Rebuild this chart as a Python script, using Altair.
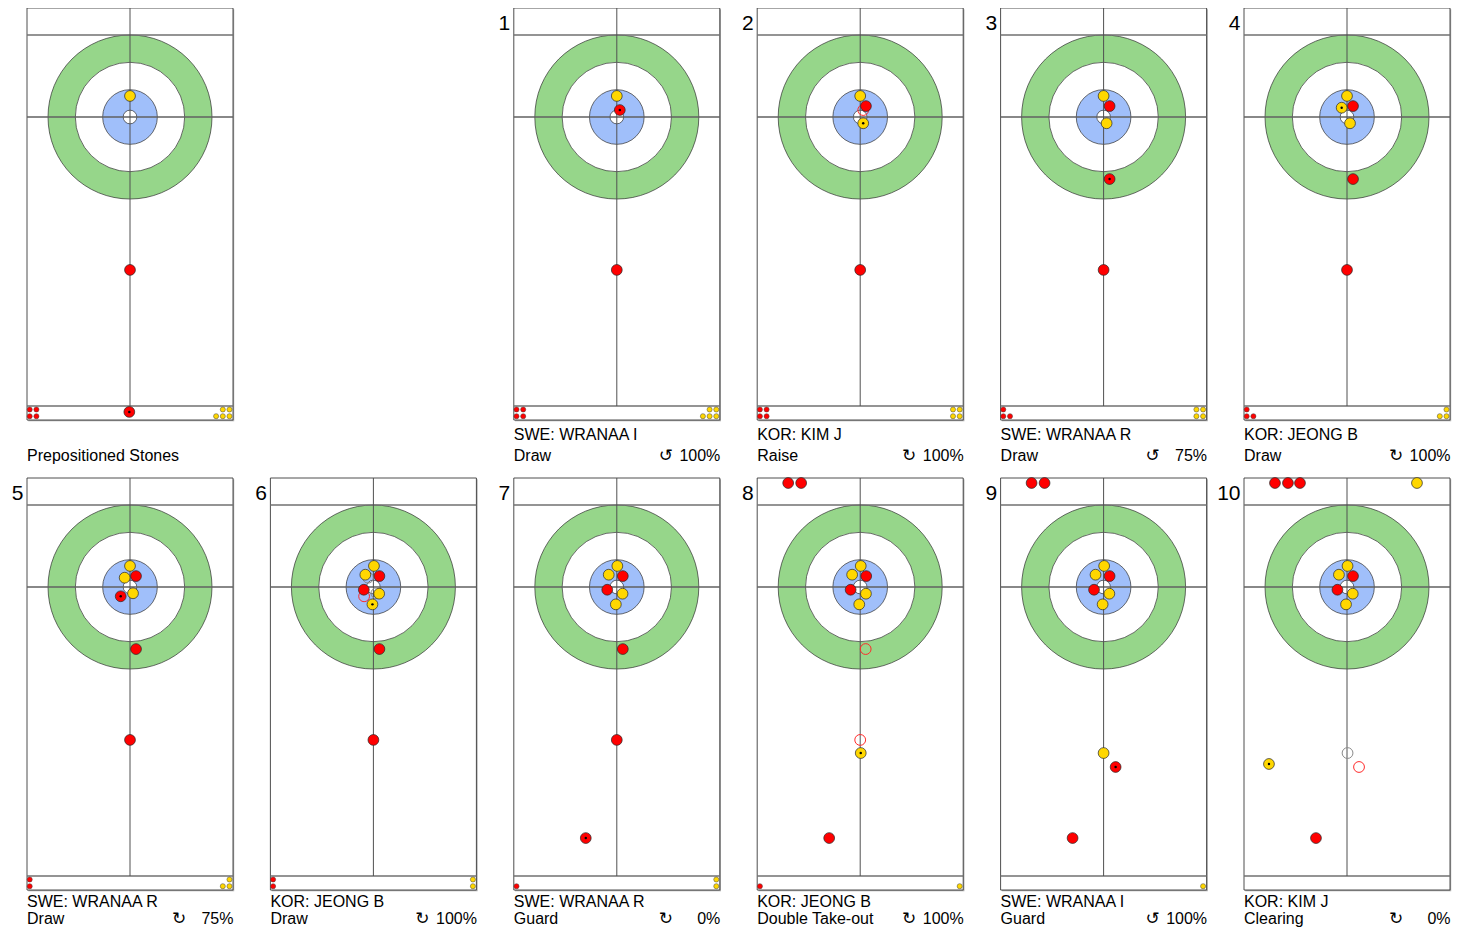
import altair as alt
import pandas as pd

# ---------------- data ----------------
PANEL_COL = [0, 2, 3, 4, 5, 0, 1, 2, 3, 4, 5]
PANEL_ROW = [0, 0, 0, 0, 0, 1, 1, 1, 1, 1, 1]
PANEL_NUM = ["", "1", "2", "3", "4", "5", "6", "7", "8", "9", "10"]
PANEL_PLAYER = ["", "SWE: WRANAA I", "KOR: KIM J", "SWE: WRANAA R", "KOR: JEONG B",
                "SWE: WRANAA R", "KOR: JEONG B", "SWE: WRANAA R", "KOR: JEONG B",
                "SWE: WRANAA I", "KOR: KIM J"]
PANEL_SHOT = ["Prepositioned Stones", "Draw", "Raise", "Draw", "Draw", "Draw", "Draw",
              "Guard", "Double Take-out", "Guard", "Clearing"]
PANEL_TURN = ["", "\u21ba", "\u21bb", "\u21ba", "\u21bb", "\u21bb", "\u21bb", "\u21bb",
              "\u21bb", "\u21ba", "\u21bb"]
PANEL_PCT = ["", "100%", "100%", "75%", "100%", "75%", "100%", "0%", "100%", "100%", "0%"]
RED_LEFT = [4, 4, 4, 3, 3, 2, 2, 1, 1, 0, 0]
YELLOW_LEFT = [5, 5, 4, 4, 3, 3, 2, 2, 1, 1, 0]

# stones: (team, feet right of centre line, feet from tee line towards hog, state)
HOUSE_LATE = [("Y", 0.04, -1.54, "in"), ("Y", -0.59, -0.90, "in"), ("R", 0.44, -0.80, "in"),
              ("R", -0.70, 0.20, "in"), ("Y", 0.42, 0.49, "in"), ("Y", -0.07, 1.27, "in")]
STONES_P0 = [("Y", 0.00, -1.54, "in"), ("R", 0.00, 11.19, "in"), ("R", -0.05, 21.58, "thrown")]
STONES_P1 = [("Y", 0.00, -1.54, "in"), ("R", 0.22, -0.51, "thrown"), ("R", 0.00, 11.19, "in")]
STONES_P2 = [("R", 0.22, -0.51, "prev"), ("Y", 0.00, -1.54, "in"), ("R", 0.42, -0.80, "in"),
             ("Y", 0.22, 0.46, "thrown"), ("R", 0.00, 11.19, "in")]
STONES_P3 = [("Y", 0.00, -1.54, "in"), ("R", 0.44, -0.80, "in"), ("Y", 0.22, 0.46, "in"),
             ("R", 0.44, 4.54, "thrown"), ("R", 0.00, 11.19, "in")]
STONES_P4 = [("Y", 0.00, -1.54, "in"), ("Y", -0.39, -0.68, "thrown"), ("R", 0.44, -0.80, "in"),
             ("Y", 0.22, 0.46, "in"), ("R", 0.44, 4.54, "in"), ("R", 0.00, 11.19, "in")]
STONES_P5 = [("Y", 0.00, -1.54, "in"), ("Y", -0.39, -0.68, "in"), ("R", 0.44, -0.80, "in"),
             ("Y", 0.22, 0.46, "in"), ("R", -0.68, 0.68, "thrown"), ("R", 0.44, 4.54, "in"),
             ("R", 0.00, 11.19, "in")]
STONES_P6 = [("Y", -0.39, -0.68, "prev"), ("Y", 0.22, 0.46, "prev"), ("R", -0.68, 0.68, "prev"),
             ("Y", 0.04, -1.54, "in"), ("Y", -0.59, -0.90, "in"), ("R", 0.44, -0.80, "in"),
             ("R", -0.70, 0.20, "in"), ("Y", 0.42, 0.49, "in"), ("Y", -0.07, 1.27, "thrown"),
             ("R", 0.44, 4.54, "in"), ("R", 0.00, 11.19, "in")]
STONES_P7 = HOUSE_LATE + [("R", 0.44, 4.54, "in"), ("R", 0.00, 11.19, "in"),
                          ("R", -2.27, 18.37, "thrown")]
STONES_P8 = [("R", 0.40, 4.54, "prev"), ("R", 0.00, 11.19, "prev")] + HOUSE_LATE + [
    ("Y", 0.04, 12.15, "thrown"), ("R", -2.27, 18.37, "in"),
    ("R", -5.27, -7.61, "in"), ("R", -4.32, -7.61, "in")]
STONES_P9 = HOUSE_LATE + [("Y", 0.00, 12.15, "in"), ("R", 0.88, 13.17, "thrown"),
                          ("R", -2.27, 18.37, "in"), ("R", -5.27, -7.61, "in"),
                          ("R", -4.32, -7.61, "in")]
STONES_P10 = [("Y", 0.04, 12.15, "prev"), ("R", 0.88, 13.17, "prev")] + HOUSE_LATE + [
    ("Y", -5.71, 12.95, "thrown"), ("R", -2.27, 18.37, "in"),
    ("R", -5.27, -7.61, "in"), ("R", -4.32, -7.61, "in"), ("R", -3.44, -7.61, "in"),
    ("Y", 5.12, -7.61, "in")]
STONES = [STONES_P0, STONES_P1, STONES_P2, STONES_P3, STONES_P4, STONES_P5,
          STONES_P6, STONES_P7, STONES_P8, STONES_P9, STONES_P10]

# ---------------- geometry / style ----------------
K = 82 / 6                     # pixels per foot
CW, CH = 1446, 921             # drawing size in px
PANEL_W, PANEL_H = 206, 412
COL_LEFT0, COL_PITCH = 19, 243.4
ROW_TOP = [0, 470]
TEE_DOWN = 109                 # px from panel top to tee line
TEXT1 = [20, 17]
TEXT2 = [41, 34]
HALF_W = PANEL_W / 2 / K
TOP_FT = -TEE_DOWN / K
BOTTOM_FT = (PANEL_H - TEE_DOWN) / K
BACK_FT = -6.0
HOG_FT = 289 / K
RINGS = [(6.0, "#96d68a"), (4.0, "#ffffff"), (2.0, "#a0bffa"), (0.5, "#ffffff")]
STONE_D = 0.79
TEAM_FILL = {"R": "#ff0000", "Y": "#ffd700"}
PREV_STROKE = {"R": "#ff2a2a", "Y": "#8a8a8a"}
FONT = "Liberation Sans"


def centre(i):
    cx = (COL_LEFT0 + PANEL_COL[i] * COL_PITCH + PANEL_W / 2) / K
    cy = (ROW_TOP[PANEL_ROW[i]] + TEE_DOWN) / K
    return cx, cy


frames, shadows, lines, rings, stones, prevs, dots, spare, texts = [], [], [], [], [], [], [], [], []
for i in range(len(PANEL_COL)):
    cx, cy = centre(i)
    row = PANEL_ROW[i]
    left, right = cx - HALF_W, cx + HALF_W
    top, bottom = cy + TOP_FT, cy + BOTTOM_FT
    frames.append(dict(x=left, x2=right, y=top, y2=bottom))
    shadows.append(dict(x=left + 1.2 / K, x2=right + 1.2 / K, y=top + 1.2 / K, y2=bottom + 1.2 / K))
    lines += [
        dict(x=left, x2=right, y=cy + BACK_FT, y2=cy + BACK_FT, c="#707070", w=1.4),
        dict(x=left, x2=right, y=cy, y2=cy, c="#606060", w=1.3),
        dict(x=left, x2=right, y=cy + HOG_FT, y2=cy + HOG_FT, c="#707070", w=1.3),
        dict(x=cx, x2=cx, y=top, y2=cy + HOG_FT, c="#505050", w=1.0),
    ]
    for j, (r, col) in enumerate(RINGS):
        rings.append(dict(order=j * 100 + i, x=cx, y=cy, size=(2 * r * K) ** 2, fill=col))
    for team, dx, dy, state in STONES[i]:
        rec = dict(x=cx + dx, y=cy + dy, fill=TEAM_FILL[team], stroke=PREV_STROKE[team])
        if state == "prev":
            prevs.append(rec)
        else:
            stones.append(rec)
            if state == "thrown":
                dots.append(rec)
    # stones still to be delivered, in the strip past the hog line
    row_y = [cy + 299.2 / K, cy + 292.5 / K]
    for team, n in (("R", RED_LEFT[i]), ("Y", YELLOW_LEFT[i])):
        bottom_n = (n + 1) // 2
        top_n = n // 2
        for ry, cnt in ((row_y[0], bottom_n), (row_y[1], top_n)):
            for k in range(cnt):
                if team == "R":
                    sx = left + (2.7 + 6.7 * k) / K
                else:
                    sx = right - (3.5 + 6.7 * k) / K
                spare.append(dict(x=sx, y=ry, fill=TEAM_FILL[team]))
    texts.append(dict(kind="num", t=PANEL_NUM[i], x=left - 3.5 / K, y=top + 22 / K))
    texts.append(dict(kind="l1", t=PANEL_PLAYER[i], x=left, y=bottom + TEXT1[row] / K))
    texts.append(dict(kind="l2", t=PANEL_SHOT[i], x=left, y=bottom + TEXT2[row] / K))
    texts.append(dict(kind="turn", t=PANEL_TURN[i], x=right - 54 / K, y=bottom + TEXT2[row] / K))
    texts.append(dict(kind="pct", t=PANEL_PCT[i], x=right + 0.5 / K, y=bottom + TEXT2[row] / K))

rings.sort(key=lambda d: d["order"])

XS = alt.Scale(domain=[0, CW / K], nice=False, zero=False)
YS = alt.Scale(domain=[0, CH / K], nice=False, zero=False, reverse=True)


def X(f="x"):
    return alt.X(f + ":Q", scale=XS, axis=None)


def Y(f="y"):
    return alt.Y(f + ":Q", scale=YS, axis=None)


shadow_l = alt.Chart(pd.DataFrame(shadows)).mark_rect(fill="#a8a8a8").encode(
    x=X(), x2="x2:Q", y=Y(), y2="y2:Q")
frame_l = alt.Chart(pd.DataFrame(frames)).mark_rect(
    fill="#ffffff", stroke="#3a3a3a", strokeWidth=0.9).encode(x=X(), x2="x2:Q", y=Y(), y2="y2:Q")
ring_l = alt.Chart(pd.DataFrame(rings)).mark_point(
    shape="circle", filled=True, opacity=1, stroke="#2f2f2f", strokeWidth=0.7).encode(
    x=X(), y=Y(), size=alt.Size("size:Q", scale=None), fill=alt.Fill("fill:N", scale=None),
    order=alt.Order("order:Q"))
line_l = alt.Chart(pd.DataFrame(lines)).mark_rule().encode(
    x=X(), x2="x2:Q", y=Y(), y2="y2:Q",
    color=alt.Color("c:N", scale=None), strokeWidth=alt.StrokeWidth("w:Q", scale=None))
prev_l = alt.Chart(pd.DataFrame(prevs)).mark_point(
    shape="circle", filled=False, opacity=1, strokeWidth=1.0, size=(STONE_D * K) ** 2).encode(
    x=X(), y=Y(), stroke=alt.Stroke("stroke:N", scale=None))
stone_l = alt.Chart(pd.DataFrame(stones)).mark_point(
    shape="circle", filled=True, opacity=1, stroke="#262626", strokeWidth=0.7,
    size=(STONE_D * K) ** 2).encode(x=X(), y=Y(), fill=alt.Fill("fill:N", scale=None))
dot_l = alt.Chart(pd.DataFrame(dots)).mark_point(
    shape="circle", filled=True, opacity=1, color="#000000", size=6).encode(x=X(), y=Y())
spare_l = alt.Chart(pd.DataFrame(spare)).mark_point(
    shape="circle", filled=True, opacity=1, stroke="#444444", strokeWidth=0.5, size=26).encode(
    x=X(), y=Y(), fill=alt.Fill("fill:N", scale=None))

tdf = pd.DataFrame(texts)


def text_layer(kind, align, size, font=FONT):
    return alt.Chart(tdf[tdf.kind == kind]).mark_text(
        align=align, baseline="alphabetic", fontSize=size, font=font, color="#000000").encode(
        x=X(), y=Y(), text="t:N")


layers = [shadow_l, frame_l, ring_l, line_l, prev_l, stone_l, dot_l, spare_l,
          text_layer("num", "right", 21),
          text_layer("l1", "left", 16),
          text_layer("l2", "left", 16),
          text_layer("turn", "center", 17, "DejaVu Sans"),
          text_layer("pct", "right", 16)]

chart = alt.layer(*layers).properties(
    width=CW, height=CH, padding=0, autosize=alt.AutoSizeParams(type="none")
).configure_view(strokeOpacity=0)

chart.save("out.html", embed_options={"renderer": "svg", "actions": False})
